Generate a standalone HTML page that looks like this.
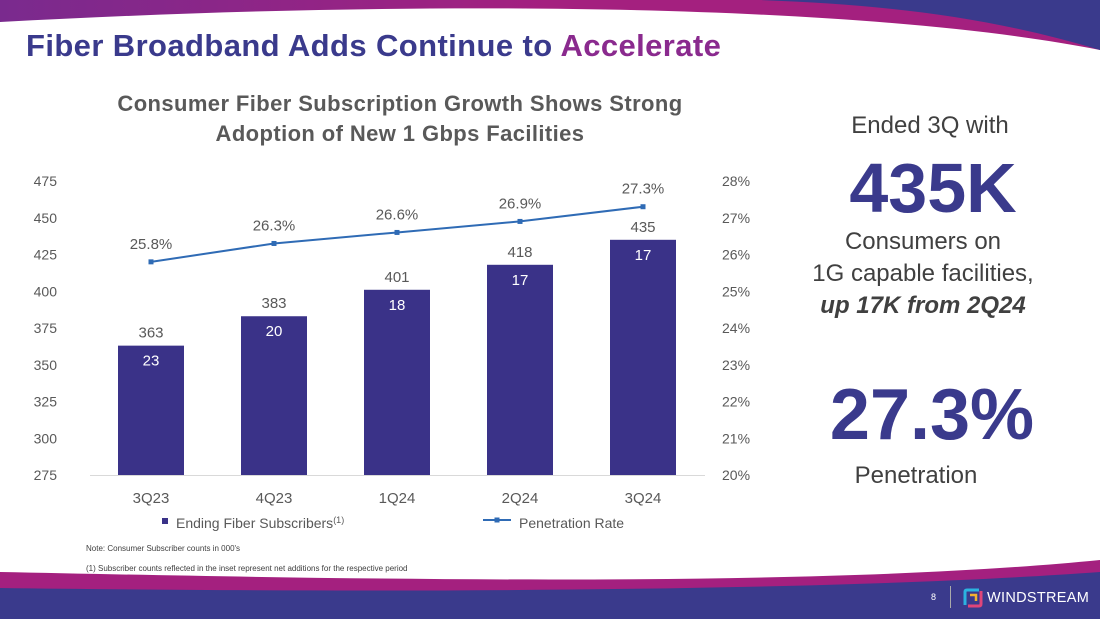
<!DOCTYPE html>
<html><head><meta charset="utf-8"><style>
body{margin:0;width:1100px;height:619px;overflow:hidden;background:#fff;font-family:"Liberation Sans",sans-serif;position:relative}
.abs{position:absolute}
</style></head><body>
<svg class="abs" style="left:0;top:0" width="1100" height="619">
<defs>
<linearGradient id="tg" x1="0" x2="1"><stop offset="0" stop-color="#7a2a8e"/><stop offset="0.5" stop-color="#a4207f"/><stop offset="1" stop-color="#a4207f"/></linearGradient>
</defs>
<path d="M0 0 H1100 V50 C900 10 500 -5 0 22 Z" fill="url(#tg)"/>
<path d="M760 0 H1100 V50 C1000 20 900 5 760 0 Z" fill="#3a3a8c"/>
<path d="M0 572 C300 578 800 590 1100 560 V619 H0 Z" fill="#a4207f"/>
<path d="M0 588 C300 592 800 594 1100 572 V619 H0 Z" fill="#3a3a8c"/>
</svg>
<div class="abs" style="left:26px;top:28px;font-size:31px;font-weight:bold;color:#3a3a8c;letter-spacing:0.4px">Fiber Broadband Adds Continue to <span style="color:#8a2a8e">Accelerate</span></div>
<div class="abs" style="left:70px;top:89px;width:660px;text-align:center;font-size:22px;font-weight:bold;color:#595959;line-height:30px;letter-spacing:0.4px">Consumer Fiber Subscription Growth Shows Strong<br>Adoption of New 1 Gbps Facilities</div>
<svg class="abs" style="left:0;top:0" width="760" height="540" id="chart"></svg>
<div class="abs" style="left:830px;top:112px;width:200px;text-align:center;font-size:24px;color:#404040">Ended 3Q with</div>
<div class="abs" style="left:803px;top:148px;width:260px;text-align:center;font-size:70px;font-weight:bold;color:#3a3a8c">435K</div>
<div class="abs" style="left:788px;top:226px;width:270px;text-align:center;font-size:24px;color:#404040;line-height:32px">Consumers on<br>1G capable facilities,<br><b><i>up 17K from 2Q24</i></b></div>
<div class="abs" style="left:802px;top:374px;width:260px;text-align:center;font-size:72px;font-weight:bold;color:#3a3a8c">27.3%</div>
<div class="abs" style="left:816px;top:462px;width:200px;text-align:center;font-size:24px;color:#404040">Penetration</div>
<div class="abs" style="left:86px;top:544px;font-size:8px;color:#404040">Note: Consumer Subscriber counts in 000's</div>
<div class="abs" style="left:86px;top:564px;font-size:8px;color:#404040">(1) Subscriber counts reflected in the inset represent net additions for the respective period</div>
<div class="abs" style="left:931px;top:592px;font-size:9px;color:#fff">8</div>
<div class="abs" style="left:950px;top:586px;width:1px;height:22px;background:#aaa"></div>
<svg class="abs" style="left:962px;top:587px" width="22" height="22"><path d="M3 18 V5 Q3 3 5 3 H17" stroke="#2bb3e0" stroke-width="3" fill="none"/><path d="M19 4 V17 Q19 19 17 19 H6" stroke="#e0457a" stroke-width="3" fill="none"/><path d="M8 8 H14 V14" stroke="#f2b230" stroke-width="2.5" fill="none"/></svg>
<div class="abs" style="left:987px;top:590px;font-size:14.5px;color:#fff;letter-spacing:0.3px">WINDSTREAM</div>
<script>
const categories=["3Q23","4Q23","1Q24","2Q24","3Q24"];
const subscribers=[363,383,401,418,435];
const netAdds=[23,20,18,17,17];
const penetration=[25.8,26.3,26.6,26.9,27.3];
const leftTicks=[275,300,325,350,375,400,425,450,475];
const rightTicks=[20,21,22,23,24,25,26,27,28];
const svg=document.getElementById('chart');const NS='http://www.w3.org/2000/svg';
const yL=v=>475-(v-275)*294/200;
const yR=v=>475-(v-20)*294/8;
const xC=i=>151+i*123;
function mk(t,a,txt){const e=document.createElementNS(NS,t);for(const k in a)e.setAttribute(k,a[k]);if(txt!==undefined)e.textContent=txt;svg.appendChild(e);return e;}
leftTicks.forEach(v=>{const e=mk('text',{x:57,y:yL(v)+5,'text-anchor':'end','font-size':14,fill:'#595959','font-family':'Liberation Sans'},v);

});
rightTicks.forEach(v=>{const e=mk('text',{x:722,y:yR(v)+5,'font-size':14,fill:'#595959','font-family':'Liberation Sans'},v+'%');

});
const ax=mk('line',{x1:90,x2:705,y1:475.5,y2:475.5,stroke:'#d9d9d9'});


categories.forEach((c,i)=>{
const x=xC(i),top=yL(subscribers[i]);
const b=mk('rect',{x:x-33,y:top,width:66,height:475-top,fill:'#3a3288'});


const l=mk('text',{x:x,y:top-8,'text-anchor':'middle','font-size':15,fill:'#595959','font-family':'Liberation Sans'},subscribers[i]);


const n=mk('text',{x:x,y:top+20,'text-anchor':'middle','font-size':15,fill:'#fff','font-family':'Liberation Sans'},netAdds[i]);


const t=mk('text',{x:x,y:503,'text-anchor':'middle','font-size':15,fill:'#595959','font-family':'Liberation Sans'},c);


});
const pl=mk('polyline',{points:penetration.map((p,i)=>xC(i)+','+yR(p)).join(' '),fill:'none',stroke:'#2f6bb5','stroke-width':2});


penetration.forEach((p,i)=>{
const m=mk('rect',{x:xC(i)-2.5,y:yR(p)-2.5,width:5,height:5,fill:'#2f6bb5'});


const t=mk('text',{x:xC(i),y:yR(p)-13,'text-anchor':'middle','font-size':15,fill:'#595959','font-family':'Liberation Sans'},p.toFixed(1)+'%');


});
const l1=mk('rect',{x:162,y:518,width:6,height:6,fill:'#3a3288'});


const lt=mk('text',{x:176,y:528,'font-size':14,fill:'#595959','font-family':'Liberation Sans'});
lt.innerHTML='Ending Fiber Subscribers<tspan font-size="9" dy="-5">(1)</tspan>';


const l2=mk('line',{x1:483,x2:511,y1:520,y2:520,stroke:'#2f6bb5','stroke-width':2});


mk('rect',{x:494.5,y:517.5,width:5,height:5,fill:'#2f6bb5'});
const lt2=mk('text',{x:519,y:528,'font-size':14,fill:'#595959','font-family':'Liberation Sans'},'Penetration Rate');


</script>
</body></html>
